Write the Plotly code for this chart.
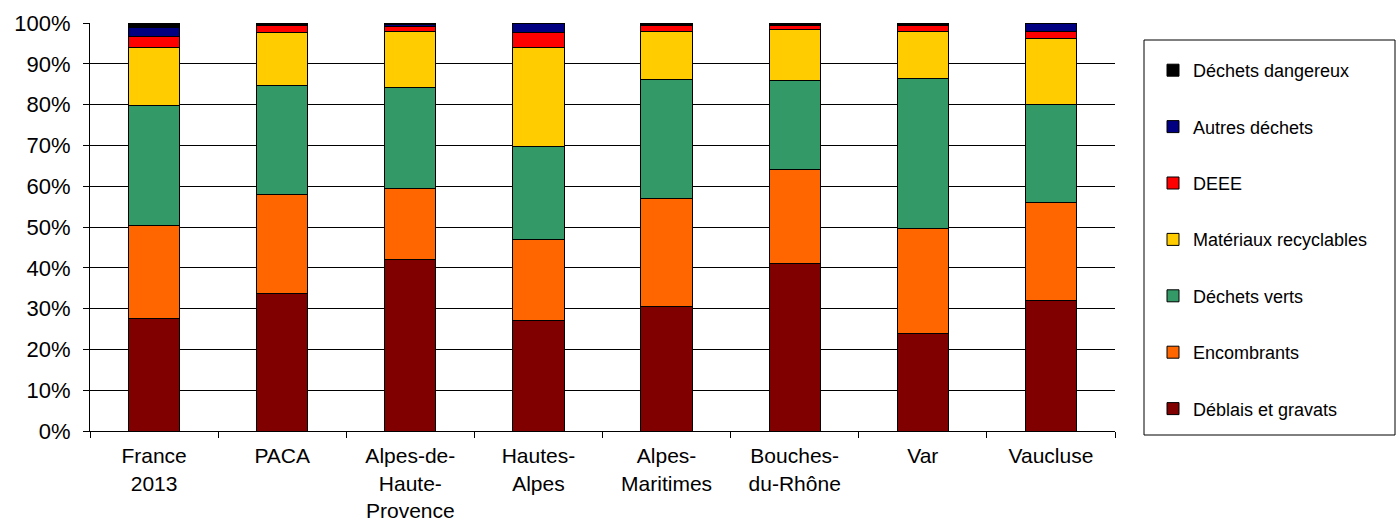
import plotly.graph_objects as go

# Territories (x axis) and waste streams, shares in % of total tonnage
territoires = ["France<br>2013", "PACA", "Alpes-de-<br>Haute-<br>Provence", "Hautes-<br>Alpes",
               "Alpes-<br>Maritimes", "Bouches-<br>du-Rhône", "Var", "Vaucluse"]

deblais_gravats      = [27.5, 33.8, 42.0, 27.0, 30.5, 41.0, 24.0, 32.0]
encombrants          = [22.8, 24.2, 17.5, 20.0, 26.5, 23.0, 25.7, 24.0]
dechets_verts        = [29.5, 26.8, 24.7, 22.7, 29.2, 22.0, 36.6, 24.1]
materiaux_recyclables = [14.3, 12.8, 13.7, 24.2, 11.7, 12.3, 11.6, 16.1]
deee                 = [2.6, 1.8, 1.3, 3.7, 1.4, 1.0, 1.5, 1.6]
autres_dechets       = [2.3, 0.3, 0.4, 2.3, 0.3, 0.4, 0.3, 2.0]
dechets_dangereux    = [1.0, 0.3, 0.4, 0.1, 0.4, 0.3, 0.3, 0.2]

series = [
    ("Déblais et gravats", deblais_gravats, "#800000"),
    ("Encombrants", encombrants, "#FF6600"),
    ("Déchets verts", dechets_verts, "#339966"),
    ("Matériaux recyclables", materiaux_recyclables, "#FFCC00"),
    ("DEEE", deee, "#FF0000"),
    ("Autres déchets", autres_dechets, "#000080"),
    ("Déchets dangereux", dechets_dangereux, "#000000"),
]

fig = go.Figure()
n = len(series)
for i, (name, vals, color) in enumerate(series):
    fig.add_trace(go.Bar(
        x=territoires, y=[v / 100 for v in vals], name=name,
        legendgroup=name, legendrank=n - i,
        marker=dict(color=color, line=dict(color="#000000", width=1)),
    ))

L, R, T, B = 90, 282, 23, 91
W, H = 1397, 522
pw, ph = W - L - R, H - T - B

def px_x(p):
    return (p - L) / pw

def px_y(p):
    return (H - B - p) / ph

fig.update_layout(
    width=W, height=H,
    margin=dict(l=L, r=R, t=T, b=B, autoexpand=False),
    barmode="stack", bargap=0.6,
    plot_bgcolor="white", paper_bgcolor="white",
    font=dict(family="Arial, Liberation Sans, sans-serif", size=22, color="#000000"),
    xaxis=dict(
        showline=True, linecolor="#000000", linewidth=1,
        ticks="outside", tickson="boundaries", ticklen=6, tickcolor="#000000",
        showgrid=False, ticklabelstandoff=6, automargin=False,
        tickfont=dict(size=21),
    ),
    yaxis=dict(
        range=[0, 1], dtick=0.1, tickformat=".0%",
        showline=True, linecolor="#000000", linewidth=1,
        ticks="outside", ticklen=6, tickcolor="#000000",
        showgrid=True, gridcolor="#000000", gridwidth=1,
        zeroline=False, ticklabelstandoff=8, automargin=False,
    ),
    showlegend=True,
    legend=dict(
        x=px_x(1153), xanchor="left", y=px_y(52), yanchor="top",
        traceorder="grouped", tracegroupgap=30,
        font=dict(size=18), bgcolor="rgba(0,0,0,0)", borderwidth=0,
    ),
    shapes=[dict(
        type="rect", xref="paper", yref="paper",
        x0=px_x(1144), x1=px_x(1395), y0=px_y(435), y1=px_y(40),
        line=dict(color="#000000", width=1),
    )],
)

fig.write_html("out.html")
